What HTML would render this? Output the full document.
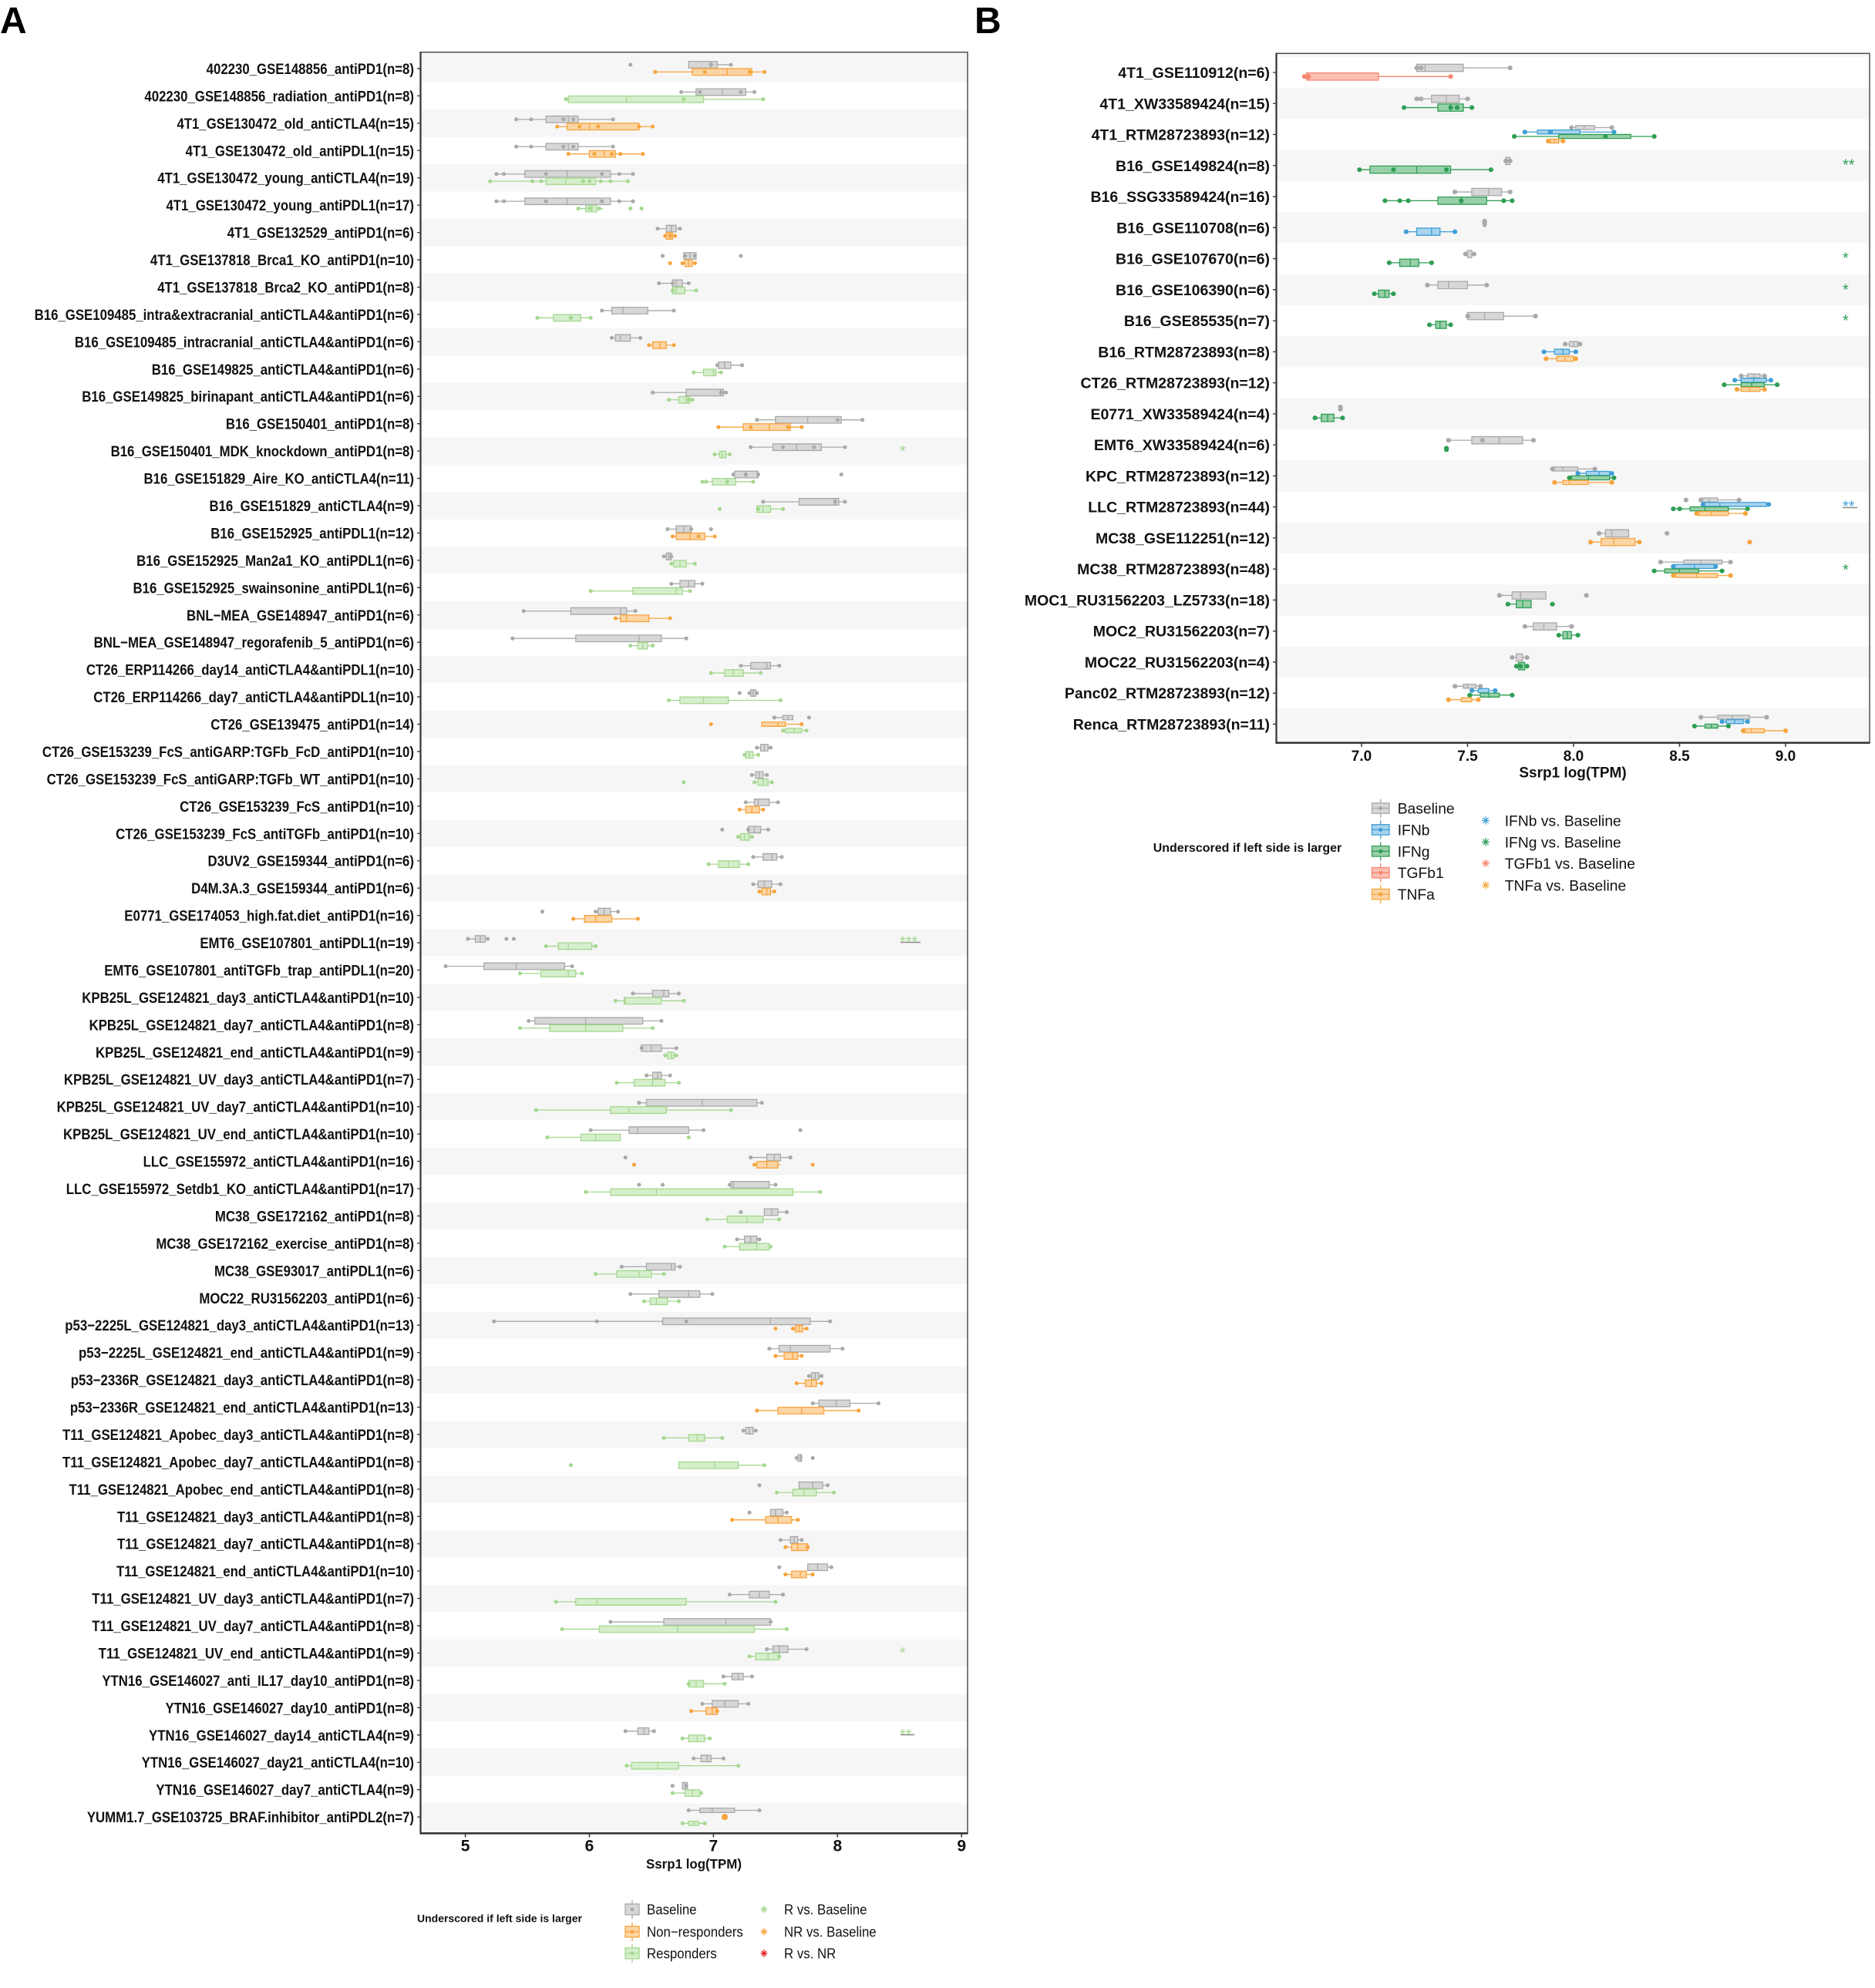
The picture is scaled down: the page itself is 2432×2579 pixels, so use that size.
<!DOCTYPE html>
<html><head><meta charset="utf-8">
<style>
body{margin:0;background:#fff}
svg{display:block;font-family:"Liberation Sans",Arial,sans-serif}
.d rect,.d path{vector-effect:non-scaling-stroke;stroke-width:1.3}
.d path{fill:none}
.d .p{stroke-width:5;stroke-linecap:round}
.d .q{stroke-width:6;stroke-linecap:round}
.g{stroke:#a9a9a9;fill:#a9a9a9}.g rect{fill:#d7d7d7}
.o{stroke:#f7a43d;fill:#f7a43d}.o rect{fill:#fcd5a5}
.r{stroke:#a5d890;fill:#a5d890}.r rect{fill:#d5eecb}
.b{stroke:#3f9fd6;fill:#3f9fd6}.b rect{fill:#a8d3ee}
.n{stroke:#2f9e55;fill:#2f9e55}.n rect{fill:#99d0a9}
.t{stroke:#f6866f;fill:#f6866f}.t rect{fill:#fbc0b2}
.k path{fill:none;stroke-width:1.3}.k rect{stroke-width:1.3}
.lab{font-weight:bold;font-size:19.5px;fill:#111}
</style></head><body>
<svg width="2432" height="2579" viewBox="0 0 2432 2579" xmlns="http://www.w3.org/2000/svg">
<defs>
<pattern id="sa" patternUnits="userSpaceOnUse" x="0" y="71.24" width="2432" height="70.88"><rect width="2432" height="35.44" fill="#f6f6f6"/></pattern>
<pattern id="sb" patternUnits="userSpaceOnUse" x="0" y="114.13" width="2432" height="80.52"><rect width="2432" height="40.26" fill="#f6f6f6"/></pattern>
</defs>
<rect width="2432" height="2579" fill="#fff"/>
<text x="0" y="43" font-size="48" font-weight="bold">A</text>
<text x="1264" y="43" font-size="48" font-weight="bold">B</text>

<!-- PANEL A background -->
<rect x="545.5" y="67.7" width="709.5" height="2310" fill="url(#sa)"/>
<rect x="545.5" y="67.7" width="709.5" height="3.6" fill="#f6f6f6"/>

<!-- PANEL A data -->
<g class="d" transform="translate(-200.9,0) scale(160.9,1)">
<g transform="translate(0,88.96)"><g class="g" transform="translate(0,-5)"><rect x="6.80" y="-4.3" width=".23" height="8.6"/><path d="M6.80 0H6.80M7.03 0H7.14M6.98-4.3V4.3"/><path class="p" d="M6.33 0h.001M6.98 0h.001M7.14 0h.001"/></g><g class="o" transform="translate(0,4.4)"><rect x="6.83" y="-4.3" width=".48" height="8.6"/><path d="M6.53 0H6.83M7.31 0H7.41M7.11-4.3V4.3"/><path class="p" d="M6.53 0h.001M6.93 0h.001M7.29 0h.001M7.41 0h.001"/></g></g>
<g transform="translate(0,124.40)"><g class="g" transform="translate(0,-5)"><rect x="6.86" y="-4.3" width=".40" height="8.6"/><path d="M6.74 0H6.86M7.26 0H7.33M7.07-4.3V4.3"/><path class="p" d="M6.74 0h.001M6.89 0h.001M7.22 0h.001M7.33 0h.001"/></g><g class="r" transform="translate(0,4.4)"><rect x="5.83" y="-4.3" width="1.09" height="8.6"/><path d="M5.81 0H5.83M6.92 0H7.40M6.30-4.3V4.3"/><path class="p" d="M5.81 0h.001M6.76 0h.001M7.40 0h.001"/></g></g>
<g transform="translate(0,159.84)"><g class="g" transform="translate(0,-5)"><rect x="5.65" y="-4.3" width=".26" height="8.6"/><path d="M5.41 0H5.65M5.91 0H6.19M5.83-4.3V4.3"/><path class="p" d="M5.41 0h.001M5.53 0h.001M5.79 0h.001M5.87 0h.001M6.19 0h.001"/></g><g class="o" transform="translate(0,4.4)"><rect x="5.82" y="-4.3" width=".58" height="8.6"/><path d="M5.74 0H5.82M6.40 0H6.51M6.00-4.3V4.3"/><path class="p" d="M5.74 0h.001M5.92 0h.001M6.07 0h.001M6.40 0h.001M6.51 0h.001"/></g></g>
<g transform="translate(0,195.28)"><g class="g" transform="translate(0,-5)"><rect x="5.65" y="-4.3" width=".26" height="8.6"/><path d="M5.41 0H5.65M5.91 0H6.19M5.83-4.3V4.3"/><path class="p" d="M5.41 0h.001M5.53 0h.001M5.79 0h.001M5.87 0h.001M6.19 0h.001"/></g><g class="o" transform="translate(0,4.4)"><rect x="6.00" y="-4.3" width=".21" height="8.6"/><path d="M5.83 0H6.00M6.21 0H6.43M6.12-4.3V4.3"/><path class="p" d="M5.83 0h.001M6.04 0h.001M6.18 0h.001M6.25 0h.001M6.43 0h.001"/></g></g>
<g transform="translate(0,230.72)"><g class="g" transform="translate(0,-5)"><rect x="5.48" y="-4.3" width=".69" height="8.6"/><path d="M5.25 0H5.48M6.17 0H6.35M5.82-4.3V4.3"/><path class="p" d="M5.25 0h.001M5.31 0h.001M5.65 0h.001M6.10 0h.001M6.24 0h.001M6.35 0h.001"/></g><g class="r" transform="translate(0,4.4)"><rect x="5.65" y="-4.3" width=".40" height="8.6"/><path d="M5.20 0H5.65M6.05 0H6.31M5.81-4.3V4.3"/><path class="p" d="M5.20 0h.001M5.54 0h.001M5.61 0h.001M5.95 0h.001M6.00 0h.001M6.09 0h.001M6.17 0h.001M6.31 0h.001"/></g></g>
<g transform="translate(0,266.16)"><g class="g" transform="translate(0,-5)"><rect x="5.48" y="-4.3" width=".69" height="8.6"/><path d="M5.25 0H5.48M6.17 0H6.35M5.82-4.3V4.3"/><path class="p" d="M5.25 0h.001M5.31 0h.001M5.65 0h.001M6.10 0h.001M6.24 0h.001M6.35 0h.001"/></g><g class="r" transform="translate(0,4.4)"><rect x="5.97" y="-4.3" width=".09" height="8.6"/><path d="M5.91 0H5.97M6.06 0H6.11M6.02-4.3V4.3"/><path class="p" d="M5.91 0h.001M6.00 0h.001M6.08 0h.001M6.33 0h.001M6.42 0h.001"/></g></g>
<g transform="translate(0,301.60)"><g class="g" transform="translate(0,-5)"><rect x="6.62" y="-4.3" width=".08" height="8.6"/><path d="M6.55 0H6.62M6.70 0H6.73M6.66-4.3V4.3"/><path class="p" d="M6.55 0h.001M6.73 0h.001"/></g><g class="o" transform="translate(0,4.4)"><rect x="6.62" y="-4.3" width=".05" height="8.6"/><path d="M6.61 0H6.62M6.67 0H6.69M6.65-4.3V4.3"/><path class="p" d="M6.61 0h.001M6.65 0h.001M6.69 0h.001"/></g></g>
<g transform="translate(0,337.04)"><g class="g" transform="translate(0,-5)"><rect x="6.76" y="-4.3" width=".10" height="8.6"/><path d="M6.81-4.3V4.3"/><path class="p" d="M6.59 0h.001M6.77 0h.001M6.85 0h.001M7.22 0h.001"/></g><g class="o" transform="translate(0,4.4)"><rect x="6.77" y="-4.3" width=".06" height="8.6"/><path d="M6.75 0H6.77M6.83 0H6.85M6.80-4.3V4.3"/><path class="p" d="M6.65 0h.001M6.75 0h.001M6.85 0h.001"/></g></g>
<g transform="translate(0,372.48)"><g class="g" transform="translate(0,-5)"><rect x="6.67" y="-4.3" width=".08" height="8.6"/><path d="M6.56 0H6.67M6.75 0H6.80M6.70-4.3V4.3"/><path class="p" d="M6.56 0h.001M6.67 0h.001M6.80 0h.001"/></g><g class="r" transform="translate(0,4.4)"><rect x="6.67" y="-4.3" width=".10" height="8.6"/><path d="M6.77 0H6.86M6.70-4.3V4.3"/><path class="p" d="M6.67 0h.001M6.86 0h.001"/></g></g>
<g transform="translate(0,407.92)"><g class="g" transform="translate(0,-5)"><rect x="6.18" y="-4.3" width=".29" height="8.6"/><path d="M6.10 0H6.18M6.47 0H6.68M6.27-4.3V4.3"/><path class="p" d="M6.10 0h.001M6.68 0h.001"/></g><g class="r" transform="translate(0,4.4)"><rect x="5.71" y="-4.3" width=".22" height="8.6"/><path d="M5.58 0H5.71M5.93 0H6.01M5.85-4.3V4.3"/><path class="p" d="M5.58 0h.001M5.85 0h.001M6.01 0h.001"/></g></g>
<g transform="translate(0,443.36)"><g class="g" transform="translate(0,-5)"><rect x="6.21" y="-4.3" width=".12" height="8.6"/><path d="M6.18 0H6.21M6.33 0H6.41M6.25-4.3V4.3"/><path class="p" d="M6.18 0h.001M6.41 0h.001"/></g><g class="o" transform="translate(0,4.4)"><rect x="6.51" y="-4.3" width=".11" height="8.6"/><path d="M6.48 0H6.51M6.62 0H6.68M6.57-4.3V4.3"/><path class="p" d="M6.48 0h.001M6.68 0h.001"/></g></g>
<g transform="translate(0,478.80)"><g class="g" transform="translate(0,-5)"><rect x="7.04" y="-4.3" width=".10" height="8.6"/><path d="M7.03 0H7.04M7.14 0H7.23M7.09-4.3V4.3"/><path class="p" d="M7.03 0h.001M7.23 0h.001"/></g><g class="r" transform="translate(0,4.4)"><rect x="6.92" y="-4.3" width=".10" height="8.6"/><path d="M6.84 0H6.92M7.02 0H7.06M7.00-4.3V4.3"/><path class="p" d="M6.84 0h.001M7.06 0h.001"/></g></g>
<g transform="translate(0,514.24)"><g class="g" transform="translate(0,-5)"><rect x="6.78" y="-4.3" width=".30" height="8.6"/><path d="M6.51 0H6.78M7.08 0H7.10M7.06-4.3V4.3"/><path class="p" d="M6.51 0h.001M7.06 0h.001M7.10 0h.001"/></g><g class="r" transform="translate(0,4.4)"><rect x="6.72" y="-4.3" width=".09" height="8.6"/><path d="M6.64 0H6.72M6.81 0H6.83M6.78-4.3V4.3"/><path class="p" d="M6.64 0h.001M6.80 0h.001M6.83 0h.001"/></g></g>
<g transform="translate(0,549.68)"><g class="g" transform="translate(0,-5)"><rect x="7.50" y="-4.3" width=".53" height="8.6"/><path d="M7.35 0H7.50M8.03 0H8.20M7.76-4.3V4.3"/><path class="p" d="M7.35 0h.001M8.00 0h.001M8.20 0h.001"/></g><g class="o" transform="translate(0,4.4)"><rect x="7.24" y="-4.3" width=".38" height="8.6"/><path d="M7.04 0H7.24M7.62 0H7.71M7.45-4.3V4.3"/><path class="p" d="M7.04 0h.001M7.30 0h.001M7.60 0h.001M7.71 0h.001"/></g></g>
<g transform="translate(0,585.12)"><g class="g" transform="translate(0,-5)"><rect x="7.48" y="-4.3" width=".39" height="8.6"/><path d="M7.30 0H7.48M7.87 0H8.06M7.67-4.3V4.3"/><path class="p" d="M7.30 0h.001M7.56 0h.001M7.81 0h.001M8.06 0h.001"/></g><g class="r" transform="translate(0,4.4)"><rect x="7.05" y="-4.3" width=".05" height="8.6"/><path d="M7.01 0H7.05M7.10 0H7.13M7.07-4.3V4.3"/><path class="p" d="M7.01 0h.001M7.13 0h.001"/></g></g>
<g transform="translate(0,620.56)"><g class="g" transform="translate(0,-5)"><rect x="7.17" y="-4.3" width=".19" height="8.6"/><path d="M7.16 0H7.17M7.26-4.3V4.3"/><path class="p" d="M7.16 0h.001M7.26 0h.001M7.36 0h.001M8.03 0h.001"/></g><g class="r" transform="translate(0,4.4)"><rect x="6.99" y="-4.3" width=".19" height="8.6"/><path d="M6.91 0H6.99M7.18 0H7.32M7.11-4.3V4.3"/><path class="p" d="M6.91 0h.001M6.94 0h.001M7.11 0h.001M7.32 0h.001"/></g></g>
<g transform="translate(0,656.00)"><g class="g" transform="translate(0,-5)"><rect x="7.69" y="-4.3" width=".32" height="8.6"/><path d="M7.40 0H7.69M8.01 0H8.06M7.98-4.3V4.3"/><path class="p" d="M7.40 0h.001M7.98 0h.001M8.06 0h.001"/></g><g class="r" transform="translate(0,4.4)"><rect x="7.35" y="-4.3" width=".11" height="8.6"/><path d="M7.46 0H7.56M7.40-4.3V4.3"/><path class="p" d="M7.05 0h.001M7.36 0h.001M7.56 0h.001"/></g></g>
<g transform="translate(0,691.44)"><g class="g" transform="translate(0,-5)"><rect x="6.70" y="-4.3" width=".12" height="8.6"/><path d="M6.63 0H6.70M6.76-4.3V4.3"/><path class="p" d="M6.63 0h.001M6.82 0h.001M6.98 0h.001"/></g><g class="o" transform="translate(0,4.4)"><rect x="6.70" y="-4.3" width=".23" height="8.6"/><path d="M6.67 0H6.70M6.93 0H7.01M6.81-4.3V4.3"/><path class="p" d="M6.67 0h.001M6.88 0h.001M7.01 0h.001"/></g></g>
<g transform="translate(0,726.88)"><g class="g" transform="translate(0,-5)"><rect x="6.62" y="-4.3" width=".04" height="8.6"/><path d="M6.60 0H6.62M6.64-4.3V4.3"/><path class="p" d="M6.60 0h.001M6.66 0h.001"/></g><g class="r" transform="translate(0,4.4)"><rect x="6.68" y="-4.3" width=".10" height="8.6"/><path d="M6.66 0H6.68M6.78 0H6.85M6.73-4.3V4.3"/><path class="p" d="M6.66 0h.001M6.85 0h.001"/></g></g>
<g transform="translate(0,762.32)"><g class="g" transform="translate(0,-5)"><rect x="6.73" y="-4.3" width=".12" height="8.6"/><path d="M6.66 0H6.73M6.85 0H6.91M6.80-4.3V4.3"/><path class="p" d="M6.66 0h.001M6.91 0h.001"/></g><g class="r" transform="translate(0,4.4)"><rect x="6.35" y="-4.3" width=".40" height="8.6"/><path d="M6.01 0H6.35M6.75 0H6.81M6.70-4.3V4.3"/><path class="p" d="M6.01 0h.001M6.81 0h.001"/></g></g>
<g transform="translate(0,797.76)"><g class="g" transform="translate(0,-5)"><rect x="5.85" y="-4.3" width=".45" height="8.6"/><path d="M5.47 0H5.85M6.30 0H6.37M6.25-4.3V4.3"/><path class="p" d="M5.47 0h.001M6.37 0h.001"/></g><g class="o" transform="translate(0,4.4)"><rect x="6.25" y="-4.3" width=".23" height="8.6"/><path d="M6.21 0H6.25M6.48 0H6.65M6.30-4.3V4.3"/><path class="p" d="M6.21 0h.001M6.65 0h.001"/></g></g>
<g transform="translate(0,833.20)"><g class="g" transform="translate(0,-5)"><rect x="5.89" y="-4.3" width=".69" height="8.6"/><path d="M5.38 0H5.89M6.58 0H6.78M6.40-4.3V4.3"/><path class="p" d="M5.38 0h.001M6.78 0h.001"/></g><g class="r" transform="translate(0,4.4)"><rect x="6.39" y="-4.3" width=".08" height="8.6"/><path d="M6.33 0H6.39M6.47 0H6.51M6.43-4.3V4.3"/><path class="p" d="M6.33 0h.001M6.51 0h.001"/></g></g>
<g transform="translate(0,868.64)"><g class="g" transform="translate(0,-5)"><rect x="7.30" y="-4.3" width=".16" height="8.6"/><path d="M7.22 0H7.30M7.46 0H7.53M7.43-4.3V4.3"/><path class="p" d="M7.22 0h.001M7.53 0h.001"/></g><g class="r" transform="translate(0,4.4)"><rect x="7.09" y="-4.3" width=".15" height="8.6"/><path d="M6.98 0H7.09M7.24 0H7.38M7.16-4.3V4.3"/><path class="p" d="M6.98 0h.001M7.38 0h.001"/></g></g>
<g transform="translate(0,904.08)"><g class="g" transform="translate(0,-5)"><rect x="7.30" y="-4.3" width=".04" height="8.6"/><path d="M7.29 0H7.30M7.34 0H7.35M7.32-4.3V4.3"/><path class="p" d="M7.21 0h.001M7.29 0h.001M7.35 0h.001"/></g><g class="r" transform="translate(0,4.4)"><rect x="6.73" y="-4.3" width=".39" height="8.6"/><path d="M6.64 0H6.73M7.12 0H7.54M6.92-4.3V4.3"/><path class="p" d="M6.64 0h.001M7.54 0h.001"/></g></g>
<g transform="translate(0,939.52)"><g class="g" transform="translate(0,-8.6)"><rect x="7.56" y="-2.8" width=".08" height="5.6"/><path d="M7.49 0H7.56M7.60-2.8V2.8"/><path class="p" d="M7.49 0h.001M7.77 0h.001"/></g><g class="o"><rect x="7.39" y="-2.8" width=".19" height="5.6"/><path d="M7.58 0H7.71M7.52-2.8V2.8"/><path class="p" d="M6.98 0h.001M7.71 0h.001"/></g><g class="r" transform="translate(0,8.3)"><rect x="7.58" y="-2.8" width=".13" height="5.6"/><path d="M7.56 0H7.58M7.71 0H7.75M7.65-2.8V2.8"/><path class="p" d="M7.56 0h.001M7.75 0h.001"/></g></g>
<g transform="translate(0,974.96)"><g class="g" transform="translate(0,-5)"><rect x="7.38" y="-4.3" width=".06" height="8.6"/><path d="M7.35 0H7.38M7.44 0H7.46M7.41-4.3V4.3"/><path class="p" d="M7.35 0h.001M7.46 0h.001"/></g><g class="r" transform="translate(0,4.4)"><rect x="7.26" y="-4.3" width=".06" height="8.6"/><path d="M7.25 0H7.26M7.32 0H7.36M7.29-4.3V4.3"/><path class="p" d="M7.25 0h.001M7.36 0h.001"/></g></g>
<g transform="translate(0,1010.40)"><g class="g" transform="translate(0,-5)"><rect x="7.34" y="-4.3" width=".06" height="8.6"/><path d="M7.31 0H7.34M7.40 0H7.43M7.37-4.3V4.3"/><path class="p" d="M7.31 0h.001M7.43 0h.001"/></g><g class="r" transform="translate(0,4.4)"><rect x="7.36" y="-4.3" width=".08" height="8.6"/><path d="M7.33 0H7.36M7.44 0H7.47M7.40-4.3V4.3"/><path class="p" d="M6.76 0h.001M7.33 0h.001M7.47 0h.001"/></g></g>
<g transform="translate(0,1045.84)"><g class="g" transform="translate(0,-5)"><rect x="7.33" y="-4.3" width=".12" height="8.6"/><path d="M7.26 0H7.33M7.45 0H7.52M7.36-4.3V4.3"/><path class="p" d="M7.26 0h.001M7.52 0h.001"/></g><g class="o" transform="translate(0,4.4)"><rect x="7.26" y="-4.3" width=".11" height="8.6"/><path d="M7.21 0H7.26M7.37 0H7.40M7.31-4.3V4.3"/><path class="p" d="M7.21 0h.001M7.40 0h.001"/></g></g>
<g transform="translate(0,1081.28)"><g class="g" transform="translate(0,-5)"><rect x="7.28" y="-4.3" width=".10" height="8.6"/><path d="M7.38 0H7.44M7.33-4.3V4.3"/><path class="p" d="M7.07 0h.001M7.28 0h.001M7.44 0h.001"/></g><g class="r" transform="translate(0,4.4)"><rect x="7.22" y="-4.3" width=".07" height="8.6"/><path d="M7.20 0H7.22M7.29 0H7.31M7.25-4.3V4.3"/><path class="p" d="M7.20 0h.001M7.31 0h.001"/></g></g>
<g transform="translate(0,1116.72)"><g class="g" transform="translate(0,-5)"><rect x="7.40" y="-4.3" width=".11" height="8.6"/><path d="M7.32 0H7.40M7.51 0H7.55M7.47-4.3V4.3"/><path class="p" d="M7.32 0h.001M7.55 0h.001"/></g><g class="r" transform="translate(0,4.4)"><rect x="7.04" y="-4.3" width=".17" height="8.6"/><path d="M6.96 0H7.04M7.21 0H7.28M7.12-4.3V4.3"/><path class="p" d="M6.96 0h.001M7.28 0h.001"/></g></g>
<g transform="translate(0,1152.16)"><g class="g" transform="translate(0,-5)"><rect x="7.36" y="-4.3" width=".11" height="8.6"/><path d="M7.32 0H7.36M7.47 0H7.54M7.41-4.3V4.3"/><path class="p" d="M7.32 0h.001M7.54 0h.001"/></g><g class="o" transform="translate(0,4.4)"><rect x="7.39" y="-4.3" width=".07" height="8.6"/><path d="M7.37 0H7.39M7.46 0H7.49M7.43-4.3V4.3"/><path class="p" d="M7.37 0h.001M7.49 0h.001"/></g></g>
<g transform="translate(0,1187.60)"><g class="g" transform="translate(0,-5)"><rect x="6.07" y="-4.3" width=".10" height="8.6"/><path d="M6.05 0H6.07M6.17 0H6.23M6.12-4.3V4.3"/><path class="p" d="M5.62 0h.001M6.05 0h.001M6.23 0h.001"/></g><g class="o" transform="translate(0,4.4)"><rect x="5.96" y="-4.3" width=".22" height="8.6"/><path d="M5.87 0H5.96M6.18 0H6.39M6.05-4.3V4.3"/><path class="p" d="M5.87 0h.001M6.39 0h.001"/></g></g>
<g transform="translate(0,1223.04)"><g class="g" transform="translate(0,-5)"><rect x="5.08" y="-4.3" width=".08" height="8.6"/><path d="M5.02 0H5.08M5.16 0H5.18M5.12-4.3V4.3"/><path class="p" d="M5.02 0h.001M5.18 0h.001M5.33 0h.001M5.39 0h.001"/></g><g class="r" transform="translate(0,4.4)"><rect x="5.75" y="-4.3" width=".27" height="8.6"/><path d="M5.65 0H5.75M6.02 0H6.05M5.83-4.3V4.3"/><path class="p" d="M5.65 0h.001M6.05 0h.001"/></g></g>
<g transform="translate(0,1258.48)"><g class="g" transform="translate(0,-5)"><rect x="5.15" y="-4.3" width=".65" height="8.6"/><path d="M4.84 0H5.15M5.80 0H5.86M5.41-4.3V4.3"/><path class="p" d="M4.84 0h.001M5.86 0h.001"/></g><g class="r" transform="translate(0,4.4)"><rect x="5.61" y="-4.3" width=".28" height="8.6"/><path d="M5.44 0H5.61M5.89 0H5.94M5.83-4.3V4.3"/><path class="p" d="M5.44 0h.001M5.94 0h.001"/></g></g>
<g transform="translate(0,1293.92)"><g class="g" transform="translate(0,-5)"><rect x="6.51" y="-4.3" width=".13" height="8.6"/><path d="M6.35 0H6.51M6.64 0H6.72M6.60-4.3V4.3"/><path class="p" d="M6.35 0h.001M6.72 0h.001"/></g><g class="r" transform="translate(0,4.4)"><rect x="6.28" y="-4.3" width=".30" height="8.6"/><path d="M6.21 0H6.28M6.58 0H6.76M6.29-4.3V4.3"/><path class="p" d="M6.21 0h.001M6.76 0h.001"/></g></g>
<g transform="translate(0,1329.36)"><g class="g" transform="translate(0,-5)"><rect x="5.56" y="-4.3" width=".87" height="8.6"/><path d="M5.51 0H5.56M6.43 0H6.58M5.97-4.3V4.3"/><path class="p" d="M5.51 0h.001M6.58 0h.001"/></g><g class="r" transform="translate(0,4.4)"><rect x="5.68" y="-4.3" width=".59" height="8.6"/><path d="M5.44 0H5.68M6.27 0H6.51M5.97-4.3V4.3"/><path class="p" d="M5.44 0h.001M6.51 0h.001"/></g></g>
<g transform="translate(0,1364.80)"><g class="g" transform="translate(0,-5)"><rect x="6.42" y="-4.3" width=".16" height="8.6"/><path d="M6.58 0H6.70M6.50-4.3V4.3"/><path class="p" d="M6.42 0h.001M6.70 0h.001"/></g><g class="r" transform="translate(0,4.4)"><rect x="6.63" y="-4.3" width=".05" height="8.6"/><path d="M6.61 0H6.63M6.68 0H6.70M6.66-4.3V4.3"/><path class="p" d="M6.61 0h.001M6.70 0h.001"/></g></g>
<g transform="translate(0,1400.24)"><g class="g" transform="translate(0,-5)"><rect x="6.51" y="-4.3" width=".07" height="8.6"/><path d="M6.46 0H6.51M6.58 0H6.65M6.55-4.3V4.3"/><path class="p" d="M6.46 0h.001M6.65 0h.001"/></g><g class="r" transform="translate(0,4.4)"><rect x="6.36" y="-4.3" width=".25" height="8.6"/><path d="M6.22 0H6.36M6.61 0H6.72M6.51-4.3V4.3"/><path class="p" d="M6.22 0h.001M6.72 0h.001"/></g></g>
<g transform="translate(0,1435.68)"><g class="g" transform="translate(0,-5)"><rect x="6.46" y="-4.3" width=".89" height="8.6"/><path d="M6.40 0H6.46M7.35 0H7.39M6.91-4.3V4.3"/><path class="p" d="M6.40 0h.001M7.39 0h.001"/></g><g class="r" transform="translate(0,4.4)"><rect x="6.17" y="-4.3" width=".45" height="8.6"/><path d="M5.57 0H6.17M6.62 0H7.14M6.32-4.3V4.3"/><path class="p" d="M5.57 0h.001M7.14 0h.001"/></g></g>
<g transform="translate(0,1471.12)"><g class="g" transform="translate(0,-5)"><rect x="6.32" y="-4.3" width=".48" height="8.6"/><path d="M6.01 0H6.32M6.80 0H6.92M6.39-4.3V4.3"/><path class="p" d="M6.01 0h.001M6.92 0h.001M7.70 0h.001"/></g><g class="r" transform="translate(0,4.4)"><rect x="5.93" y="-4.3" width=".32" height="8.6"/><path d="M5.66 0H5.93M6.05-4.3V4.3"/><path class="p" d="M5.66 0h.001M6.80 0h.001"/></g></g>
<g transform="translate(0,1506.56)"><g class="g" transform="translate(0,-5)"><rect x="7.43" y="-4.3" width=".11" height="8.6"/><path d="M7.30 0H7.43M7.54 0H7.62M7.49-4.3V4.3"/><path class="p" d="M6.29 0h.001M7.30 0h.001M7.62 0h.001"/></g><g class="o" transform="translate(0,4.4)"><rect x="7.35" y="-4.3" width=".17" height="8.6"/><path d="M7.33 0H7.35M7.52 0H7.54M7.43-4.3V4.3"/><path class="p" d="M6.36 0h.001M7.33 0h.001M7.80 0h.001"/></g></g>
<g transform="translate(0,1542.00)"><g class="g" transform="translate(0,-5)"><rect x="7.14" y="-4.3" width=".31" height="8.6"/><path d="M7.13 0H7.14M7.45 0H7.50M7.16-4.3V4.3"/><path class="p" d="M6.40 0h.001M6.59 0h.001M7.13 0h.001M7.50 0h.001"/></g><g class="r" transform="translate(0,4.4)"><rect x="6.17" y="-4.3" width="1.47" height="8.6"/><path d="M5.97 0H6.17M7.64 0H7.86M6.54-4.3V4.3"/><path class="p" d="M5.97 0h.001M7.86 0h.001"/></g></g>
<g transform="translate(0,1577.44)"><g class="g" transform="translate(0,-5)"><rect x="7.41" y="-4.3" width=".11" height="8.6"/><path d="M7.52 0H7.59M7.47-4.3V4.3"/><path class="p" d="M7.22 0h.001M7.59 0h.001"/></g><g class="r" transform="translate(0,4.4)"><rect x="7.11" y="-4.3" width=".29" height="8.6"/><path d="M6.95 0H7.11M7.40 0H7.53M7.27-4.3V4.3"/><path class="p" d="M6.95 0h.001M7.53 0h.001"/></g></g>
<g transform="translate(0,1612.88)"><g class="g" transform="translate(0,-5)"><rect x="7.25" y="-4.3" width=".10" height="8.6"/><path d="M7.19 0H7.25M7.35 0H7.37M7.30-4.3V4.3"/><path class="p" d="M7.19 0h.001M7.37 0h.001"/></g><g class="r" transform="translate(0,4.4)"><rect x="7.21" y="-4.3" width=".24" height="8.6"/><path d="M7.09 0H7.21M7.45 0H7.46M7.35-4.3V4.3"/><path class="p" d="M7.09 0h.001M7.46 0h.001"/></g></g>
<g transform="translate(0,1648.32)"><g class="g" transform="translate(0,-5)"><rect x="6.46" y="-4.3" width=".23" height="8.6"/><path d="M6.26 0H6.46M6.69 0H6.73M6.66-4.3V4.3"/><path class="p" d="M6.26 0h.001M6.73 0h.001"/></g><g class="r" transform="translate(0,4.4)"><rect x="6.22" y="-4.3" width=".28" height="8.6"/><path d="M6.05 0H6.22M6.50 0H6.60M6.40-4.3V4.3"/><path class="p" d="M6.05 0h.001M6.60 0h.001"/></g></g>
<g transform="translate(0,1683.76)"><g class="g" transform="translate(0,-5)"><rect x="6.56" y="-4.3" width=".33" height="8.6"/><path d="M6.33 0H6.56M6.89 0H6.99M6.80-4.3V4.3"/><path class="p" d="M6.33 0h.001M6.99 0h.001"/></g><g class="r" transform="translate(0,4.4)"><rect x="6.49" y="-4.3" width=".14" height="8.6"/><path d="M6.44 0H6.49M6.63 0H6.72M6.54-4.3V4.3"/><path class="p" d="M6.44 0h.001M6.72 0h.001"/></g></g>
<g transform="translate(0,1719.20)"><g class="g" transform="translate(0,-5)"><rect x="6.59" y="-4.3" width="1.19" height="8.6"/><path d="M5.23 0H6.59M7.78 0H7.94M7.46-4.3V4.3"/><path class="p" d="M5.23 0h.001M6.06 0h.001M6.78 0h.001M7.94 0h.001"/></g><g class="o" transform="translate(0,4.4)"><rect x="7.66" y="-4.3" width=".06" height="8.6"/><path d="M7.64 0H7.66M7.72 0H7.75M7.69-4.3V4.3"/><path class="p" d="M7.50 0h.001M7.64 0h.001M7.75 0h.001"/></g></g>
<g transform="translate(0,1754.64)"><g class="g" transform="translate(0,-5)"><rect x="7.53" y="-4.3" width=".41" height="8.6"/><path d="M7.45 0H7.53M7.94 0H8.04M7.62-4.3V4.3"/><path class="p" d="M7.45 0h.001M8.04 0h.001"/></g><g class="o" transform="translate(0,4.4)"><rect x="7.57" y="-4.3" width=".11" height="8.6"/><path d="M7.50 0H7.57M7.68 0H7.71M7.64-4.3V4.3"/><path class="p" d="M7.50 0h.001M7.71 0h.001"/></g></g>
<g transform="translate(0,1790.08)"><g class="g" transform="translate(0,-5)"><rect x="7.79" y="-4.3" width=".06" height="8.6"/><path d="M7.77 0H7.79M7.85 0H7.87M7.82-4.3V4.3"/><path class="p" d="M7.77 0h.001M7.87 0h.001"/></g><g class="o" transform="translate(0,4.4)"><rect x="7.74" y="-4.3" width=".09" height="8.6"/><path d="M7.67 0H7.74M7.83 0H7.87M7.79-4.3V4.3"/><path class="p" d="M7.67 0h.001M7.87 0h.001"/></g></g>
<g transform="translate(0,1825.52)"><g class="g" transform="translate(0,-5)"><rect x="7.85" y="-4.3" width=".25" height="8.6"/><path d="M7.80 0H7.85M8.10 0H8.33M7.99-4.3V4.3"/><path class="p" d="M7.80 0h.001M8.33 0h.001"/></g><g class="o" transform="translate(0,4.4)"><rect x="7.52" y="-4.3" width=".37" height="8.6"/><path d="M7.35 0H7.52M7.89 0H8.17M7.71-4.3V4.3"/><path class="p" d="M7.35 0h.001M8.17 0h.001"/></g></g>
<g transform="translate(0,1860.96)"><g class="g" transform="translate(0,-5)"><rect x="7.26" y="-4.3" width=".06" height="8.6"/><path d="M7.24 0H7.26M7.32 0H7.34M7.29-4.3V4.3"/><path class="p" d="M7.24 0h.001M7.34 0h.001"/></g><g class="r" transform="translate(0,4.4)"><rect x="6.80" y="-4.3" width=".13" height="8.6"/><path d="M6.60 0H6.80M6.93 0H7.07M6.87-4.3V4.3"/><path class="p" d="M6.60 0h.001M7.07 0h.001"/></g></g>
<g transform="translate(0,1896.40)"><g class="g" transform="translate(0,-5)"><rect x="7.68" y="-4.3" width=".03" height="8.6"/><path d="M7.67 0H7.68M7.71 0H7.72M7.70-4.3V4.3"/><path class="p" d="M7.67 0h.001M7.80 0h.001"/></g><g class="r" transform="translate(0,4.4)"><rect x="6.72" y="-4.3" width=".48" height="8.6"/><path d="M7.20 0H7.41M7.01-4.3V4.3"/><path class="p" d="M5.85 0h.001M7.41 0h.001"/></g></g>
<g transform="translate(0,1931.84)"><g class="g" transform="translate(0,-5)"><rect x="7.69" y="-4.3" width=".19" height="8.6"/><path d="M7.88 0H7.92M7.80-4.3V4.3"/><path class="p" d="M7.37 0h.001M7.92 0h.001"/></g><g class="r" transform="translate(0,4.4)"><rect x="7.64" y="-4.3" width=".19" height="8.6"/><path d="M7.51 0H7.64M7.83 0H7.97M7.73-4.3V4.3"/><path class="p" d="M7.51 0h.001M7.97 0h.001"/></g></g>
<g transform="translate(0,1967.28)"><g class="g" transform="translate(0,-5)"><rect x="7.46" y="-4.3" width=".10" height="8.6"/><path d="M7.56 0H7.59M7.50-4.3V4.3"/><path class="p" d="M7.29 0h.001M7.59 0h.001"/></g><g class="o" transform="translate(0,4.4)"><rect x="7.42" y="-4.3" width=".21" height="8.6"/><path d="M7.15 0H7.42M7.63 0H7.68M7.52-4.3V4.3"/><path class="p" d="M7.15 0h.001M7.68 0h.001"/></g></g>
<g transform="translate(0,2002.72)"><g class="g" transform="translate(0,-5)"><rect x="7.62" y="-4.3" width=".06" height="8.6"/><path d="M7.54 0H7.62M7.68 0H7.71M7.65-4.3V4.3"/><path class="p" d="M7.54 0h.001M7.71 0h.001"/></g><g class="o" transform="translate(0,4.4)"><rect x="7.63" y="-4.3" width=".13" height="8.6"/><path d="M7.58 0H7.63M7.68-4.3V4.3"/><path class="p" d="M7.58 0h.001M7.76 0h.001"/></g></g>
<g transform="translate(0,2038.16)"><g class="g" transform="translate(0,-5)"><rect x="7.76" y="-4.3" width=".16" height="8.6"/><path d="M7.92 0H7.95M7.84-4.3V4.3"/><path class="p" d="M7.53 0h.001M7.95 0h.001"/></g><g class="o" transform="translate(0,4.4)"><rect x="7.63" y="-4.3" width=".12" height="8.6"/><path d="M7.58 0H7.63M7.75 0H7.80M7.70-4.3V4.3"/><path class="p" d="M7.58 0h.001M7.80 0h.001"/></g></g>
<g transform="translate(0,2073.60)"><g class="g" transform="translate(0,-5)"><rect x="7.29" y="-4.3" width=".16" height="8.6"/><path d="M7.13 0H7.29M7.45 0H7.56M7.37-4.3V4.3"/><path class="p" d="M7.13 0h.001M7.56 0h.001"/></g><g class="r" transform="translate(0,4.4)"><rect x="5.89" y="-4.3" width=".89" height="8.6"/><path d="M5.73 0H5.89M6.78 0H7.50M6.06-4.3V4.3"/><path class="p" d="M5.73 0h.001M7.50 0h.001"/></g></g>
<g transform="translate(0,2109.04)"><g class="g" transform="translate(0,-5)"><rect x="6.60" y="-4.3" width=".86" height="8.6"/><path d="M6.17 0H6.60M7.10-4.3V4.3"/><path class="p" d="M6.17 0h.001M7.46 0h.001"/></g><g class="r" transform="translate(0,4.4)"><rect x="6.08" y="-4.3" width="1.25" height="8.6"/><path d="M5.78 0H6.08M7.33 0H7.59M6.71-4.3V4.3"/><path class="p" d="M5.78 0h.001M7.59 0h.001"/></g></g>
<g transform="translate(0,2144.48)"><g class="g" transform="translate(0,-5)"><rect x="7.48" y="-4.3" width=".12" height="8.6"/><path d="M7.43 0H7.48M7.60 0H7.75M7.53-4.3V4.3"/><path class="p" d="M7.43 0h.001M7.75 0h.001"/></g><g class="r" transform="translate(0,4.4)"><rect x="7.34" y="-4.3" width=".19" height="8.6"/><path d="M7.29 0H7.34M7.44-4.3V4.3"/><path class="p" d="M7.29 0h.001M7.53 0h.001"/></g></g>
<g transform="translate(0,2179.92)"><g class="g" transform="translate(0,-5)"><rect x="7.15" y="-4.3" width=".09" height="8.6"/><path d="M7.08 0H7.15M7.24 0H7.31M7.20-4.3V4.3"/><path class="p" d="M7.08 0h.001M7.31 0h.001"/></g><g class="r" transform="translate(0,4.4)"><rect x="6.80" y="-4.3" width=".12" height="8.6"/><path d="M6.92 0H7.09M6.86-4.3V4.3"/><path class="p" d="M6.80 0h.001M7.09 0h.001"/></g></g>
<g transform="translate(0,2215.36)"><g class="g" transform="translate(0,-5)"><rect x="6.99" y="-4.3" width=".21" height="8.6"/><path d="M6.91 0H6.99M7.20 0H7.28M7.09-4.3V4.3"/><path class="p" d="M6.91 0h.001M7.28 0h.001"/></g><g class="o" transform="translate(0,4.4)"><rect x="6.94" y="-4.3" width=".09" height="8.6"/><path d="M6.82 0H6.94M6.99-4.3V4.3"/><path class="p" d="M6.82 0h.001M7.03 0h.001"/></g></g>
<g transform="translate(0,2250.80)"><g class="g" transform="translate(0,-5)"><rect x="6.39" y="-4.3" width=".09" height="8.6"/><path d="M6.29 0H6.39M6.48 0H6.52M6.44-4.3V4.3"/><path class="p" d="M6.29 0h.001M6.52 0h.001"/></g><g class="r" transform="translate(0,4.4)"><rect x="6.80" y="-4.3" width=".13" height="8.6"/><path d="M6.75 0H6.80M6.93 0H6.97M6.87-4.3V4.3"/><path class="p" d="M6.75 0h.001M6.97 0h.001"/></g></g>
<g transform="translate(0,2286.24)"><g class="g" transform="translate(0,-5)"><rect x="6.90" y="-4.3" width=".08" height="8.6"/><path d="M6.84 0H6.90M6.98 0H7.08M6.95-4.3V4.3"/><path class="p" d="M6.84 0h.001M7.08 0h.001"/></g><g class="r" transform="translate(0,4.4)"><rect x="6.34" y="-4.3" width=".38" height="8.6"/><path d="M6.30 0H6.34M6.72 0H7.20M6.55-4.3V4.3"/><path class="p" d="M6.30 0h.001M7.20 0h.001"/></g></g>
<g transform="translate(0,2321.68)"><g class="g" transform="translate(0,-5)"><rect x="6.75" y="-4.3" width=".04" height="8.6"/><path d="M6.77-4.3V4.3"/><path class="p" d="M6.67 0h.001M6.78 0h.001"/></g><g class="r" transform="translate(0,4.4)"><rect x="6.77" y="-4.3" width=".12" height="8.6"/><path d="M6.67 0H6.77M6.89 0H6.90M6.83-4.3V4.3"/><path class="p" d="M6.67 0h.001M6.90 0h.001"/></g></g>
<g transform="translate(0,2357.12)"><g class="g" transform="translate(0,-8.6)"><rect x="6.89" y="-2.8" width=".28" height="5.6"/><path d="M6.80 0H6.89M7.17 0H7.37M6.99-2.8V2.8"/><path class="p" d="M6.80 0h.001M7.37 0h.001"/></g><g class="o"><path class="p" style="stroke-width:8" d="M7.09 0h.001"/></g><g class="r" transform="translate(0,8.3)"><rect x="6.80" y="-2.8" width=".08" height="5.6"/><path d="M6.75 0H6.80M6.88 0H6.93M6.84-2.8V2.8"/><path class="p" d="M6.75 0h.001M6.93 0h.001"/></g></g>
</g>

<!-- A stars -->
<g font-size="20" fill="#a5d890">
<text x="1167" y="592">*</text>
<text x="1167" y="1228.5">***</text>
<text x="1167" y="2151">*</text>
<text x="1167" y="2257">**</text>
</g>
<path d="M1168 1222.5H1194M1168 2250.5H1186" stroke="#8c8c8c" stroke-width="1.5"/>

<!-- A frame -->
<rect x="545.5" y="67.7" width="709.5" height="2310" fill="none" stroke="#444" stroke-width="1.4"/>
<path d="M545.5 67 V2378.5 H1255.5" stroke="#333" stroke-width="2.2" fill="none"/>
<path d="M603.6 2378.5v5M764.5 2378.5v5M925.4 2378.5v5M1086.3 2378.5v5M1247.2 2378.5v5" stroke="#333" stroke-width="1.5"/>
<path stroke="#333" stroke-width="1.3" d="M541 88.96h4.5M541 124.40h4.5M541 159.84h4.5M541 195.28h4.5M541 230.72h4.5M541 266.16h4.5M541 301.60h4.5M541 337.04h4.5M541 372.48h4.5M541 407.92h4.5M541 443.36h4.5M541 478.80h4.5M541 514.24h4.5M541 549.68h4.5M541 585.12h4.5M541 620.56h4.5M541 656.00h4.5M541 691.44h4.5M541 726.88h4.5M541 762.32h4.5M541 797.76h4.5M541 833.20h4.5M541 868.64h4.5M541 904.08h4.5M541 939.52h4.5M541 974.96h4.5M541 1010.40h4.5M541 1045.84h4.5M541 1081.28h4.5M541 1116.72h4.5M541 1152.16h4.5M541 1187.60h4.5M541 1223.04h4.5M541 1258.48h4.5M541 1293.92h4.5M541 1329.36h4.5M541 1364.80h4.5M541 1400.24h4.5M541 1435.68h4.5M541 1471.12h4.5M541 1506.56h4.5M541 1542.00h4.5M541 1577.44h4.5M541 1612.88h4.5M541 1648.32h4.5M541 1683.76h4.5M541 1719.20h4.5M541 1754.64h4.5M541 1790.08h4.5M541 1825.52h4.5M541 1860.96h4.5M541 1896.40h4.5M541 1931.84h4.5M541 1967.28h4.5M541 2002.72h4.5M541 2038.16h4.5M541 2073.60h4.5M541 2109.04h4.5M541 2144.48h4.5M541 2179.92h4.5M541 2215.36h4.5M541 2250.80h4.5M541 2286.24h4.5M541 2321.68h4.5M541 2357.12h4.5"/>
<g font-size="21" font-weight="bold" text-anchor="middle" fill="#111">
<text x="603.6" y="2401.7">5</text><text x="764.5" y="2401.7">6</text><text x="925.4" y="2401.7">7</text><text x="1086.3" y="2401.7">8</text><text x="1247.2" y="2401.7">9</text>
</g>
<text transform="translate(900,2424) scale(0.94,1)" font-size="18" font-weight="bold" text-anchor="middle" fill="#111">Ssrp1 log(TPM)</text>

<!-- A labels -->
<g class="lab" transform="translate(537,0) scale(0.862,1)" text-anchor="end">
<text x="0" y="95.96">402230_GSE148856_antiPD1(n=8)</text>
<text x="0" y="131.40">402230_GSE148856_radiation_antiPD1(n=8)</text>
<text x="0" y="166.84">4T1_GSE130472_old_antiCTLA4(n=15)</text>
<text x="0" y="202.28">4T1_GSE130472_old_antiPDL1(n=15)</text>
<text x="0" y="237.72">4T1_GSE130472_young_antiCTLA4(n=19)</text>
<text x="0" y="273.16">4T1_GSE130472_young_antiPDL1(n=17)</text>
<text x="0" y="308.60">4T1_GSE132529_antiPD1(n=6)</text>
<text x="0" y="344.04">4T1_GSE137818_Brca1_KO_antiPD1(n=10)</text>
<text x="0" y="379.48">4T1_GSE137818_Brca2_KO_antiPD1(n=8)</text>
<text x="0" y="414.92">B16_GSE109485_intra&amp;extracranial_antiCTLA4&amp;antiPD1(n=6)</text>
<text x="0" y="450.36">B16_GSE109485_intracranial_antiCTLA4&amp;antiPD1(n=6)</text>
<text x="0" y="485.80">B16_GSE149825_antiCTLA4&amp;antiPD1(n=6)</text>
<text x="0" y="521.24">B16_GSE149825_birinapant_antiCTLA4&amp;antiPD1(n=6)</text>
<text x="0" y="556.68">B16_GSE150401_antiPD1(n=8)</text>
<text x="0" y="592.12">B16_GSE150401_MDK_knockdown_antiPD1(n=8)</text>
<text x="0" y="627.56">B16_GSE151829_Aire_KO_antiCTLA4(n=11)</text>
<text x="0" y="663.00">B16_GSE151829_antiCTLA4(n=9)</text>
<text x="0" y="698.44">B16_GSE152925_antiPDL1(n=12)</text>
<text x="0" y="733.88">B16_GSE152925_Man2a1_KO_antiPDL1(n=6)</text>
<text x="0" y="769.32">B16_GSE152925_swainsonine_antiPDL1(n=6)</text>
<text x="0" y="804.76">BNL&#8722;MEA_GSE148947_antiPD1(n=6)</text>
<text x="0" y="840.20">BNL&#8722;MEA_GSE148947_regorafenib_5_antiPD1(n=6)</text>
<text x="0" y="875.64">CT26_ERP114266_day14_antiCTLA4&amp;antiPDL1(n=10)</text>
<text x="0" y="911.08">CT26_ERP114266_day7_antiCTLA4&amp;antiPDL1(n=10)</text>
<text x="0" y="946.52">CT26_GSE139475_antiPD1(n=14)</text>
<text x="0" y="981.96">CT26_GSE153239_FcS_antiGARP:TGFb_FcD_antiPD1(n=10)</text>
<text x="0" y="1017.40">CT26_GSE153239_FcS_antiGARP:TGFb_WT_antiPD1(n=10)</text>
<text x="0" y="1052.84">CT26_GSE153239_FcS_antiPD1(n=10)</text>
<text x="0" y="1088.28">CT26_GSE153239_FcS_antiTGFb_antiPD1(n=10)</text>
<text x="0" y="1123.72">D3UV2_GSE159344_antiPD1(n=6)</text>
<text x="0" y="1159.16">D4M.3A.3_GSE159344_antiPD1(n=6)</text>
<text x="0" y="1194.60">E0771_GSE174053_high.fat.diet_antiPD1(n=16)</text>
<text x="0" y="1230.04">EMT6_GSE107801_antiPDL1(n=19)</text>
<text x="0" y="1265.48">EMT6_GSE107801_antiTGFb_trap_antiPDL1(n=20)</text>
<text x="0" y="1300.92">KPB25L_GSE124821_day3_antiCTLA4&amp;antiPD1(n=10)</text>
<text x="0" y="1336.36">KPB25L_GSE124821_day7_antiCTLA4&amp;antiPD1(n=8)</text>
<text x="0" y="1371.80">KPB25L_GSE124821_end_antiCTLA4&amp;antiPD1(n=9)</text>
<text x="0" y="1407.24">KPB25L_GSE124821_UV_day3_antiCTLA4&amp;antiPD1(n=7)</text>
<text x="0" y="1442.68">KPB25L_GSE124821_UV_day7_antiCTLA4&amp;antiPD1(n=10)</text>
<text x="0" y="1478.12">KPB25L_GSE124821_UV_end_antiCTLA4&amp;antiPD1(n=10)</text>
<text x="0" y="1513.56">LLC_GSE155972_antiCTLA4&amp;antiPD1(n=16)</text>
<text x="0" y="1549.00">LLC_GSE155972_Setdb1_KO_antiCTLA4&amp;antiPD1(n=17)</text>
<text x="0" y="1584.44">MC38_GSE172162_antiPD1(n=8)</text>
<text x="0" y="1619.88">MC38_GSE172162_exercise_antiPD1(n=8)</text>
<text x="0" y="1655.32">MC38_GSE93017_antiPDL1(n=6)</text>
<text x="0" y="1690.76">MOC22_RU31562203_antiPD1(n=6)</text>
<text x="0" y="1726.20">p53&#8722;2225L_GSE124821_day3_antiCTLA4&amp;antiPD1(n=13)</text>
<text x="0" y="1761.64">p53&#8722;2225L_GSE124821_end_antiCTLA4&amp;antiPD1(n=9)</text>
<text x="0" y="1797.08">p53&#8722;2336R_GSE124821_day3_antiCTLA4&amp;antiPD1(n=8)</text>
<text x="0" y="1832.52">p53&#8722;2336R_GSE124821_end_antiCTLA4&amp;antiPD1(n=13)</text>
<text x="0" y="1867.96">T11_GSE124821_Apobec_day3_antiCTLA4&amp;antiPD1(n=8)</text>
<text x="0" y="1903.40">T11_GSE124821_Apobec_day7_antiCTLA4&amp;antiPD1(n=8)</text>
<text x="0" y="1938.84">T11_GSE124821_Apobec_end_antiCTLA4&amp;antiPD1(n=8)</text>
<text x="0" y="1974.28">T11_GSE124821_day3_antiCTLA4&amp;antiPD1(n=8)</text>
<text x="0" y="2009.72">T11_GSE124821_day7_antiCTLA4&amp;antiPD1(n=8)</text>
<text x="0" y="2045.16">T11_GSE124821_end_antiCTLA4&amp;antiPD1(n=10)</text>
<text x="0" y="2080.60">T11_GSE124821_UV_day3_antiCTLA4&amp;antiPD1(n=7)</text>
<text x="0" y="2116.04">T11_GSE124821_UV_day7_antiCTLA4&amp;antiPD1(n=8)</text>
<text x="0" y="2151.48">T11_GSE124821_UV_end_antiCTLA4&amp;antiPD1(n=9)</text>
<text x="0" y="2186.92">YTN16_GSE146027_anti_IL17_day10_antiPD1(n=8)</text>
<text x="0" y="2222.36">YTN16_GSE146027_day10_antiPD1(n=8)</text>
<text x="0" y="2257.80">YTN16_GSE146027_day14_antiCTLA4(n=9)</text>
<text x="0" y="2293.24">YTN16_GSE146027_day21_antiCTLA4(n=10)</text>
<text x="0" y="2328.68">YTN16_GSE146027_day7_antiCTLA4(n=9)</text>
<text x="0" y="2364.12">YUMM1.7_GSE103725_BRAF.inhibitor_antiPDL2(n=7)</text>
</g>

<!-- A legend -->
<text x="541" y="2493.5" font-size="14" font-weight="bold" fill="#111">Underscored if left side is larger</text>
<g class="k g"><path d="M820 2465V2489M811 2477H829"/><rect x="811" y="2470" width="18" height="14"/><circle cx="820" cy="2477" r="2.4" stroke="none"/></g>
<g class="k o"><path d="M820 2494V2518"/><rect x="811" y="2499" width="18" height="14"/><path d="M811 2506H829"/><circle cx="820" cy="2506" r="2.4" stroke="none"/></g>
<g class="k r"><path d="M820 2522V2546"/><rect x="811" y="2527" width="18" height="14"/><path d="M811 2534H829"/><circle cx="820" cy="2534" r="2.4" stroke="none"/></g>
<g font-size="18.5" fill="#111">
<text transform="translate(839,2483.5) scale(0.91,1)">Baseline</text>
<text transform="translate(839,2512.5) scale(0.91,1)">Non&#8722;responders</text>
<text transform="translate(839,2540.5) scale(0.91,1)">Responders</text>
<text transform="translate(1017,2483.5) scale(0.91,1)">R vs. Baseline</text>
<text transform="translate(1017,2512.5) scale(0.91,1)">NR vs. Baseline</text>
<text transform="translate(1017,2540.5) scale(0.91,1)">R vs. NR</text>
</g>
<path d="M986.5 2477H995.5M991 2472V2482M987.8 2473.8L994.2 2480.2M987.8 2480.2L994.2 2473.8" stroke="#a5d890" stroke-width="1.2"/>
<path d="M986.5 2506H995.5M991 2501V2511M987.8 2502.8L994.2 2509.2M987.8 2509.2L994.2 2502.8" stroke="#f7a43d" stroke-width="1.2"/>
<path d="M986.5 2534H995.5M991 2529V2539M987.8 2530.8L994.2 2537.2M987.8 2537.2L994.2 2530.8" stroke="#e41a1c" stroke-width="1.2"/>

<!-- PANEL B background -->
<rect x="1655.5" y="69.3" width="769.5" height="893.7" fill="url(#sb)"/>

<!-- PANEL B data -->
<g class="d" transform="translate(-159,0) scale(275,1)">
<g transform="translate(0,94)"><g class="g" transform="translate(0,-6)"><rect x="7.26" y="-4.7" width=".22" height="9.4"/><path d="M7.48 0H7.70M7.30-4.7V4.7"/><path class="q" d="M7.26 0h.001M7.28 0h.001M7.70 0h.001"/></g><g class="t" transform="translate(0,5.3)"><rect x="6.74" y="-4.7" width=".34" height="9.4"/><path d="M6.73 0H6.74M7.08 0H7.42M6.75-4.7V4.7"/><path class="q" d="M6.73 0h.001M6.75 0h.001M7.42 0h.001"/></g></g>
<g transform="translate(0,134.26)"><g class="g" transform="translate(0,-6)"><rect x="7.33" y="-4.7" width=".13" height="9.4"/><path d="M7.26 0H7.33M7.46 0H7.50M7.40-4.7V4.7"/><path class="q" d="M7.26 0h.001M7.28 0h.001M7.50 0h.001"/></g><g class="n" transform="translate(0,5.3)"><rect x="7.36" y="-4.7" width=".12" height="9.4"/><path d="M7.20 0H7.36M7.48 0H7.52M7.42-4.7V4.7"/><path class="q" d="M7.20 0h.001M7.42 0h.001M7.45 0h.001M7.52 0h.001"/></g></g>
<g transform="translate(0,174.52)"><g class="g" transform="translate(0,-9)"><rect x="8.01" y="-2.6" width=".09" height="5.2"/><path d="M7.99 0H8.01M8.10 0H8.18M8.05-2.6V2.6"/><path class="q" d="M7.99 0h.001M8.18 0h.001"/></g><g class="b" transform="translate(0,-3.3)"><rect x="7.83" y="-2.6" width=".20" height="5.2"/><path d="M7.77 0H7.83M8.03 0H8.19M7.90-2.6V2.6"/><path class="q" d="M7.77 0h.001M7.89 0h.001M8.19 0h.001"/></g><g class="n" transform="translate(0,2.5)"><rect x="7.93" y="-2.6" width=".34" height="5.2"/><path d="M7.72 0H7.93M8.27 0H8.38M8.15-2.6V2.6"/><path class="q" d="M7.72 0h.001M8.15 0h.001M8.38 0h.001"/></g><g class="o" transform="translate(0,8.5)"><rect x="7.89" y="-2.6" width=".04" height="5.2"/><path d="M7.88 0H7.89M7.93 0H7.95M7.91-2.6V2.6"/><path class="q" d="M7.88 0h.001M7.95 0h.001"/></g></g>
<g transform="translate(0,214.78)"><g class="g" transform="translate(0,-6)"><rect x="7.68" y="-4.7" width=".02" height="9.4"/><path d="M7.67 0H7.68M7.70 0H7.71"/><path class="q" d="M7.68 0h.001M7.70 0h.001"/></g><g class="n" transform="translate(0,5.3)"><rect x="7.04" y="-4.7" width=".38" height="9.4"/><path d="M6.99 0H7.04M7.42 0H7.61M7.26-4.7V4.7"/><path class="q" d="M6.99 0h.001M7.15 0h.001M7.40 0h.001M7.61 0h.001"/></g></g>
<g transform="translate(0,255.04)"><g class="g" transform="translate(0,-6)"><rect x="7.52" y="-4.7" width=".14" height="9.4"/><path d="M7.44 0H7.52M7.66 0H7.70M7.60-4.7V4.7"/><path class="q" d="M7.44 0h.001M7.70 0h.001"/></g><g class="n" transform="translate(0,5.3)"><rect x="7.36" y="-4.7" width=".23" height="9.4"/><path d="M7.11 0H7.36M7.59 0H7.71M7.47-4.7V4.7"/><path class="q" d="M7.11 0h.001M7.18 0h.001M7.22 0h.001M7.47 0h.001M7.67 0h.001M7.71 0h.001"/></g></g>
<g transform="translate(0,295.30)"><g class="g" transform="translate(0,-6)"><rect x="7.575" y="-4.7" width=".01" height="9.4"/><path class="q" d="M7.58 -2h.001M7.58 1h.001"/></g><g class="b" transform="translate(0,5.3)"><rect x="7.26" y="-4.7" width=".11" height="9.4"/><path d="M7.21 0H7.26M7.37 0H7.44M7.33-4.7V4.7"/><path class="q" d="M7.21 0h.001M7.44 0h.001"/></g></g>
<g transform="translate(0,335.56)"><g class="g" transform="translate(0,-6)"><rect x="7.50" y="-4.7" width=".02" height="9.4"/><path d="M7.49 0H7.50M7.52 0H7.53"/><path class="q" d="M7.49 0h.001M7.53 0h.001"/></g><g class="n" transform="translate(0,5.3)"><rect x="7.18" y="-4.7" width=".09" height="9.4"/><path d="M7.13 0H7.18M7.27 0H7.33M7.23-4.7V4.7"/><path class="q" d="M7.13 0h.001M7.33 0h.001"/></g></g>
<g transform="translate(0,375.82)"><g class="g" transform="translate(0,-6)"><rect x="7.36" y="-4.7" width=".14" height="9.4"/><path d="M7.31 0H7.36M7.50 0H7.59M7.41-4.7V4.7"/><path class="q" d="M7.31 0h.001M7.59 0h.001"/></g><g class="n" transform="translate(0,5.3)"><rect x="7.08" y="-4.7" width=".05" height="9.4"/><path d="M7.06 0H7.08M7.13 0H7.15M7.11-4.7V4.7"/><path class="q" d="M7.06 0h.001M7.15 0h.001"/></g></g>
<g transform="translate(0,416.08)"><g class="g" transform="translate(0,-6)"><rect x="7.50" y="-4.7" width=".17" height="9.4"/><path d="M7.67 0H7.82M7.58-4.7V4.7"/><path class="q" d="M7.50 0h.001M7.82 0h.001"/></g><g class="n" transform="translate(0,5.3)"><rect x="7.35" y="-4.7" width=".05" height="9.4"/><path d="M7.32 0H7.35M7.40 0H7.42M7.37-4.7V4.7"/><path class="q" d="M7.32 0h.001M7.42 0h.001"/></g></g>
<g transform="translate(0,456.34)"><g class="g" transform="translate(0,-10)"><rect x="7.98" y="-3.3" width=".04" height="6.6"/><path d="M7.96 0H7.98M8.02 0H8.03M8.00-3.3V3.3"/><path class="q" d="M7.96 0h.001M8.03 0h.001"/></g><g class="b"><rect x="7.91" y="-3.3" width=".07" height="6.6"/><path d="M7.86 0H7.91M7.98 0H8.01M7.95-3.3V3.3"/><path class="q" d="M7.86 0h.001M8.01 0h.001"/></g><g class="o" transform="translate(0,9)"><rect x="7.92" y="-3.3" width=".08" height="6.6"/><path d="M7.87 0H7.92M8.00 0H8.01M7.96-3.3V3.3"/><path class="q" d="M7.87 0h.001M8.01 0h.001"/></g></g>
<g transform="translate(0,496.60)"><g class="g" transform="translate(0,-9)"><rect x="8.82" y="-2.6" width=".06" height="5.2"/><path d="M8.79 0H8.82M8.88 0H8.90M8.85-2.6V2.6"/><path class="q" d="M8.79 0h.001M8.90 0h.001"/></g><g class="b" transform="translate(0,-3.3)"><rect x="8.79" y="-2.6" width=".12" height="5.2"/><path d="M8.76 0H8.79M8.91 0H8.93M8.85-2.6V2.6"/><path class="q" d="M8.76 0h.001M8.93 0h.001"/></g><g class="n" transform="translate(0,2.5)"><rect x="8.79" y="-2.6" width=".11" height="5.2"/><path d="M8.71 0H8.79M8.90 0H8.96M8.84-2.6V2.6"/><path class="q" d="M8.71 0h.001M8.96 0h.001"/></g><g class="o" transform="translate(0,8.5)"><rect x="8.79" y="-2.6" width=".09" height="5.2"/><path d="M8.77 0H8.79M8.88 0H8.90M8.83-2.6V2.6"/><path class="q" d="M8.77 0h.001M8.90 0h.001"/></g></g>
<g transform="translate(0,536.86)"><g class="g" transform="translate(0,-6)"><path class="q" d="M6.90 -3h.001M6.90 0h.001"/></g><g class="n" transform="translate(0,5.3)"><rect x="6.81" y="-4.7" width=".06" height="9.4"/><path d="M6.78 0H6.81M6.87 0H6.91M6.84-4.7V4.7"/><path class="q" d="M6.78 0h.001M6.91 0h.001"/></g></g>
<g transform="translate(0,577.12)"><g class="g" transform="translate(0,-6)"><rect x="7.52" y="-4.7" width=".24" height="9.4"/><path d="M7.41 0H7.52M7.76 0H7.81M7.65-4.7V4.7"/><path class="q" d="M7.41 0h.001M7.57 0h.001M7.81 0h.001"/></g><g class="n" transform="translate(0,5.3)"><path class="q" d="M7.40 -1h.001M7.40 1h.001"/></g></g>
<g transform="translate(0,617.38)"><g class="g" transform="translate(0,-9)"><rect x="7.90" y="-2.6" width=".12" height="5.2"/><path d="M8.02 0H8.10M7.95-2.6V2.6"/><path class="q" d="M7.90 0h.001M8.10 0h.001"/></g><g class="b" transform="translate(0,-3.3)"><rect x="8.06" y="-2.6" width=".11" height="5.2"/><path d="M8.02 0H8.06M8.17 0H8.18M8.12-2.6V2.6"/><path class="q" d="M8.02 0h.001M8.18 0h.001"/></g><g class="n" transform="translate(0,2.5)"><rect x="7.99" y="-2.6" width=".18" height="5.2"/><path d="M7.98 0H7.99M8.17 0H8.19M8.07-2.6V2.6"/><path class="q" d="M7.98 0h.001M8.19 0h.001"/></g><g class="o" transform="translate(0,8.5)"><rect x="7.95" y="-2.6" width=".12" height="5.2"/><path d="M7.91 0H7.95M8.07 0H8.18M7.98-2.6V2.6"/><path class="q" d="M7.91 0h.001M8.18 0h.001"/></g></g>
<g transform="translate(0,657.64)"><g class="g" transform="translate(0,-9)"><rect x="8.60" y="-2.6" width=".08" height="5.2"/><path d="M8.68 0H8.78M8.64-2.6V2.6"/><path class="q" d="M8.53 0h.001M8.60 0h.001M8.78 0h.001"/></g><g class="b" transform="translate(0,-3.3)"><rect x="8.61" y="-2.6" width=".30" height="5.2"/><path d="M8.91 0H8.92M8.69-2.6V2.6"/><path class="q" d="M8.61 0h.001M8.92 0h.001"/></g><g class="n" transform="translate(0,2.5)"><rect x="8.55" y="-2.6" width=".18" height="5.2"/><path d="M8.47 0H8.55M8.73 0H8.82M8.62-2.6V2.6"/><path class="q" d="M8.47 0h.001M8.50 0h.001M8.82 0h.001"/></g><g class="o" transform="translate(0,8.5)"><rect x="8.59" y="-2.6" width=".14" height="5.2"/><path d="M8.58 0H8.59M8.73 0H8.81M8.65-2.6V2.6"/><path class="q" d="M8.58 0h.001M8.81 0h.001"/></g></g>
<g transform="translate(0,697.90)"><g class="g" transform="translate(0,-6)"><rect x="8.15" y="-4.7" width=".11" height="9.4"/><path d="M8.12 0H8.15M8.18-4.7V4.7"/><path class="q" d="M8.12 0h.001M8.44 0h.001"/></g><g class="o" transform="translate(0,5.3)"><rect x="8.13" y="-4.7" width=".16" height="9.4"/><path d="M8.08 0H8.13M8.29 0H8.31M8.19-4.7V4.7"/><path class="q" d="M8.08 0h.001M8.31 0h.001M8.83 0h.001"/></g></g>
<g transform="translate(0,738.16)"><g class="g" transform="translate(0,-9)"><rect x="8.52" y="-2.6" width=".18" height="5.2"/><path d="M8.41 0H8.52M8.70 0H8.74M8.60-2.6V2.6"/><path class="q" d="M8.41 0h.001M8.74 0h.001"/></g><g class="b" transform="translate(0,-3.3)"><rect x="8.47" y="-2.6" width=".20" height="5.2"/><path d="M8.57-2.6V2.6"/><path class="q" d="M8.47 0h.001M8.67 0h.001"/></g><g class="n" transform="translate(0,2.5)"><rect x="8.43" y="-2.6" width=".16" height="5.2"/><path d="M8.38 0H8.43M8.59 0H8.70M8.50-2.6V2.6"/><path class="q" d="M8.38 0h.001M8.70 0h.001"/></g><g class="o" transform="translate(0,8.5)"><rect x="8.48" y="-2.6" width=".20" height="5.2"/><path d="M8.47 0H8.48M8.68 0H8.74M8.58-2.6V2.6"/><path class="q" d="M8.47 0h.001M8.74 0h.001"/></g></g>
<g transform="translate(0,778.42)"><g class="g" transform="translate(0,-6)"><rect x="7.71" y="-4.7" width=".16" height="9.4"/><path d="M7.65 0H7.71M7.75-4.7V4.7"/><path class="q" d="M7.65 0h.001M8.06 0h.001"/></g><g class="n" transform="translate(0,5.3)"><rect x="7.73" y="-4.7" width=".07" height="9.4"/><path d="M7.69 0H7.73M7.76-4.7V4.7"/><path class="q" d="M7.69 0h.001M7.90 0h.001"/></g></g>
<g transform="translate(0,818.68)"><g class="g" transform="translate(0,-6)"><rect x="7.81" y="-4.7" width=".11" height="9.4"/><path d="M7.77 0H7.81M7.92 0H7.99M7.86-4.7V4.7"/><path class="q" d="M7.77 0h.001M7.99 0h.001"/></g><g class="n" transform="translate(0,5.3)"><rect x="7.95" y="-4.7" width=".04" height="9.4"/><path d="M7.93 0H7.95M7.99 0H8.02M7.97-4.7V4.7"/><path class="q" d="M7.93 0h.001M8.02 0h.001"/></g></g>
<g transform="translate(0,858.94)"><g class="g" transform="translate(0,-6)"><rect x="7.73" y="-4.7" width=".03" height="9.4"/><path d="M7.71 0H7.73M7.76 0H7.78"/><path class="q" d="M7.71 0h.001M7.78 0h.001"/></g><g class="n" transform="translate(0,5.3)"><rect x="7.74" y="-4.7" width=".03" height="9.4"/><path d="M7.73 0H7.74M7.77 0H7.78"/><path class="q" d="M7.73 0h.001M7.75 0h.001M7.78 0h.001"/></g></g>
<g transform="translate(0,899.20)"><g class="g" transform="translate(0,-9)"><rect x="7.48" y="-2.6" width=".06" height="5.2"/><path d="M7.44 0H7.48M7.54 0H7.56M7.50-2.6V2.6"/><path class="q" d="M7.44 0h.001M7.56 0h.001"/></g><g class="b" transform="translate(0,-3.3)"><rect x="7.55" y="-2.6" width=".05" height="5.2"/><path d="M7.52 0H7.55M7.60 0H7.63"/><path class="q" d="M7.52 0h.001M7.63 0h.001"/></g><g class="n" transform="translate(0,2.5)"><rect x="7.56" y="-2.6" width=".09" height="5.2"/><path d="M7.51 0H7.56M7.65 0H7.71M7.60-2.6V2.6"/><path class="q" d="M7.51 0h.001M7.71 0h.001"/></g><g class="o" transform="translate(0,8.5)"><rect x="7.47" y="-2.6" width=".05" height="5.2"/><path d="M7.41 0H7.47M7.52 0H7.55"/><path class="q" d="M7.41 0h.001M7.55 0h.001"/></g></g>
<g transform="translate(0,939.46)"><g class="g" transform="translate(0,-9)"><rect x="8.68" y="-2.6" width=".15" height="5.2"/><path d="M8.60 0H8.68M8.83 0H8.91M8.75-2.6V2.6"/><path class="q" d="M8.60 0h.001M8.91 0h.001"/></g><g class="b" transform="translate(0,-3.3)"><rect x="8.72" y="-2.6" width=".08" height="5.2"/><path d="M8.70 0H8.72M8.80 0H8.82M8.76-2.6V2.6"/><path class="q" d="M8.70 0h.001M8.82 0h.001"/></g><g class="n" transform="translate(0,2.5)"><rect x="8.62" y="-2.6" width=".06" height="5.2"/><path d="M8.57 0H8.62M8.68 0H8.73M8.65-2.6V2.6"/><path class="q" d="M8.57 0h.001M8.73 0h.001"/></g><g class="o" transform="translate(0,8.5)"><rect x="8.80" y="-2.6" width=".10" height="5.2"/><path d="M8.90 0H9.00M8.84-2.6V2.6"/><path class="q" d="M8.80 0h.001M9.00 0h.001"/></g></g>
</g>

<!-- B stars -->
<g font-size="20" fill="#2f9e55">
<text x="2390" y="220.5">**</text>
<text x="2390" y="341.5">*</text>
<text x="2390" y="382.5">*</text>
<text x="2390" y="422.5">*</text>
<text x="2390" y="745.8">*</text>
</g>
<text x="2390" y="663.5" font-size="20" fill="#3f9fd6">**</text>
<path d="M2390 658.5H2409" stroke="#8c8c8c" stroke-width="1.5"/>

<!-- B frame -->
<rect x="1655.5" y="69.3" width="769.5" height="893.7" fill="none" stroke="#444" stroke-width="1.4"/>
<path d="M1655.5 68.6 V963.8 H2425.5" stroke="#333" stroke-width="2.2" fill="none"/>
<path d="M1766 963.8v5M1903.5 963.8v5M2041 963.8v5M2178.5 963.8v5M2316 963.8v5" stroke="#333" stroke-width="1.5"/>
<path stroke="#333" stroke-width="1.3" d="M1651 94h4.5M1651 134.26h4.5M1651 174.52h4.5M1651 214.78h4.5M1651 255.04h4.5M1651 295.30h4.5M1651 335.56h4.5M1651 375.82h4.5M1651 416.08h4.5M1651 456.34h4.5M1651 496.60h4.5M1651 536.86h4.5M1651 577.12h4.5M1651 617.38h4.5M1651 657.64h4.5M1651 697.90h4.5M1651 738.16h4.5M1651 778.42h4.5M1651 818.68h4.5M1651 858.94h4.5M1651 899.20h4.5M1651 939.46h4.5"/>
<g font-size="19" font-weight="bold" text-anchor="middle" fill="#111">
<text x="1766" y="987">7.0</text><text x="1903.5" y="987">7.5</text><text x="2041" y="987">8.0</text><text x="2178.5" y="987">8.5</text><text x="2316" y="987">9.0</text>
</g>
<text x="2040" y="1008.5" font-size="19" font-weight="bold" text-anchor="middle" fill="#111">Ssrp1 log(TPM)</text>

<!-- B labels -->
<g class="lab" text-anchor="end">
<text x="1647" y="101.00">4T1_GSE110912(n=6)</text>
<text x="1647" y="141.26">4T1_XW33589424(n=15)</text>
<text x="1647" y="181.52">4T1_RTM28723893(n=12)</text>
<text x="1647" y="221.78">B16_GSE149824(n=8)</text>
<text x="1647" y="262.04">B16_SSG33589424(n=16)</text>
<text x="1647" y="302.30">B16_GSE110708(n=6)</text>
<text x="1647" y="342.56">B16_GSE107670(n=6)</text>
<text x="1647" y="382.82">B16_GSE106390(n=6)</text>
<text x="1647" y="423.08">B16_GSE85535(n=7)</text>
<text x="1647" y="463.34">B16_RTM28723893(n=8)</text>
<text x="1647" y="503.60">CT26_RTM28723893(n=12)</text>
<text x="1647" y="543.86">E0771_XW33589424(n=4)</text>
<text x="1647" y="584.12">EMT6_XW33589424(n=6)</text>
<text x="1647" y="624.38">KPC_RTM28723893(n=12)</text>
<text x="1647" y="664.64">LLC_RTM28723893(n=44)</text>
<text x="1647" y="704.90">MC38_GSE112251(n=12)</text>
<text x="1647" y="745.16">MC38_RTM28723893(n=48)</text>
<text x="1647" y="785.42">MOC1_RU31562203_LZ5733(n=18)</text>
<text x="1647" y="825.68">MOC2_RU31562203(n=7)</text>
<text x="1647" y="865.94">MOC22_RU31562203(n=4)</text>
<text x="1647" y="906.20">Panc02_RTM28723893(n=12)</text>
<text x="1647" y="946.46">Renca_RTM28723893(n=11)</text>
</g>

<!-- B legend -->
<text x="1495.7" y="1105" font-size="16" font-weight="bold" fill="#111">Underscored if left side is larger</text>
<g class="k g"><path d="M1790.75 1036.5V1060.5M1779.5 1048.5H1802"/><rect x="1779.5" y="1041.8" width="22.5" height="13.4"/><path d="M1779.5 1048.5H1802"/><circle cx="1790.75" cy="1048.5" r="2.6" stroke="none"/></g>
<g class="k b"><path d="M1790.75 1064.4V1088.4"/><rect x="1779.5" y="1069.7" width="22.5" height="13.4"/><path d="M1779.5 1076.4H1802"/><circle cx="1790.75" cy="1076.4" r="2.6" stroke="none"/></g>
<g class="k n"><path d="M1790.75 1092.3V1116.3"/><rect x="1779.5" y="1097.6" width="22.5" height="13.4"/><path d="M1779.5 1104.3H1802"/><circle cx="1790.75" cy="1104.3" r="2.6" stroke="none"/></g>
<g class="k t"><path d="M1790.75 1120.2V1144.2"/><rect x="1779.5" y="1125.5" width="22.5" height="13.4"/><path d="M1779.5 1132.2H1802"/><circle cx="1790.75" cy="1132.2" r="2.6" stroke="none"/></g>
<g class="k o"><path d="M1790.75 1148.1V1172.1"/><rect x="1779.5" y="1153.4" width="22.5" height="13.4"/><path d="M1779.5 1160.1H1802"/><circle cx="1790.75" cy="1160.1" r="2.6" stroke="none"/></g>
<g font-size="19.3" fill="#111">
<text x="1812.7" y="1055.5">Baseline</text>
<text x="1812.7" y="1083.4">IFNb</text>
<text x="1812.7" y="1111.3">IFNg</text>
<text x="1812.7" y="1139.2">TGFb1</text>
<text x="1812.7" y="1167.1">TNFa</text>
<text x="1951.7" y="1071.3">IFNb vs. Baseline</text>
<text x="1951.7" y="1099.3">IFNg vs. Baseline</text>
<text x="1951.7" y="1127">TGFb1 vs. Baseline</text>
<text x="1951.7" y="1155.3">TNFa vs. Baseline</text>
</g>
<path d="M1922 1064.3H1932M1927 1059V1069.6M1923.4 1060.7L1930.6 1067.9M1923.4 1067.9L1930.6 1060.7" stroke="#3f9fd6" stroke-width="1.2"/>
<path d="M1922 1092.3H1932M1927 1087V1097.6M1923.4 1088.7L1930.6 1095.9M1923.4 1095.9L1930.6 1088.7" stroke="#2f9e55" stroke-width="1.2"/>
<path d="M1922 1120H1932M1927 1114.7V1125.3M1923.4 1116.4L1930.6 1123.6M1923.4 1123.6L1930.6 1116.4" stroke="#f6866f" stroke-width="1.2"/>
<path d="M1922 1148.3H1932M1927 1143V1153.6M1923.4 1144.7L1930.6 1151.9M1923.4 1151.9L1930.6 1144.7" stroke="#f8a63d" stroke-width="1.2"/>
</svg>
</body></html>
